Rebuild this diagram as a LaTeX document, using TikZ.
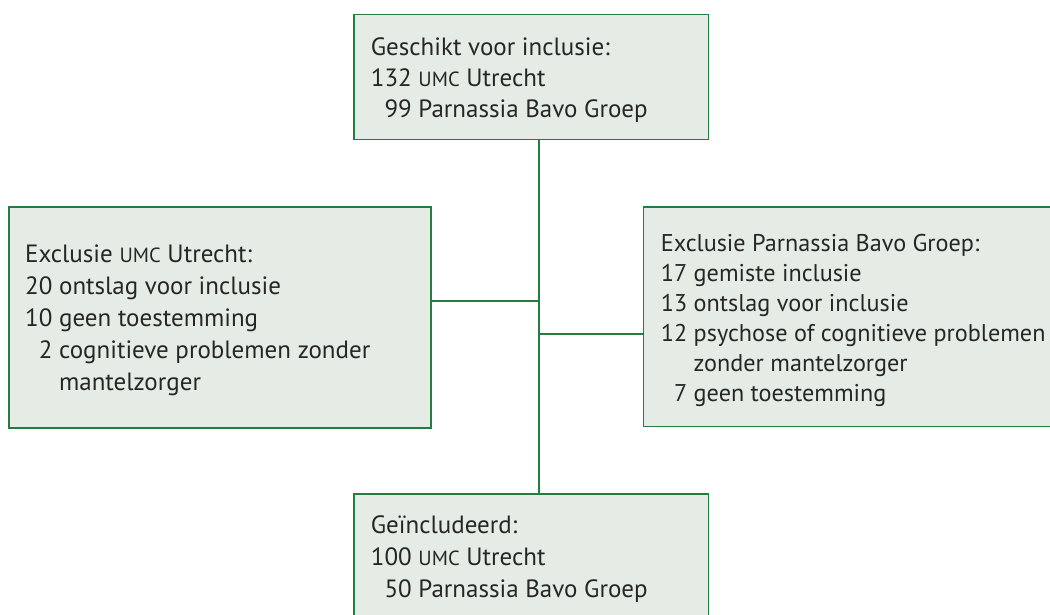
\documentclass[tikz,border=0pt]{standalone}
\usepackage{fontspec}
\setmainfont{PT Sans}
\definecolor{boxgreen}{RGB}{35,125,65}
\definecolor{boxfill}{RGB}{229,235,229}
\newcommand{\umc}{{\fontsize{20.5}{20.5}\selectfont UMC}}
\begin{document}
\begin{tikzpicture}[x=1pt,y=-1pt,
  boxrect/.style={draw=boxgreen,fill=boxfill,line width=1.5pt,rectangle,inner sep=0pt,anchor=north west},
  boxtext/.style={anchor=base west,inner sep=0pt,align=left,text=black!85},
  conn/.style={draw=boxgreen,line width=1.6pt}]
\useasboundingbox (0,0) rectangle (1050,615);
\node[boxrect,minimum width=354.4pt,minimum height=125pt] (top) at (353.3,14) {};
\node[boxrect,minimum width=422pt,minimum height=221.3pt] (left) at (8.3,206) {};
\node[boxrect,minimum width=430pt,minimum height=219.7pt] (right) at (642.7,206) {};
\node[boxrect,minimum width=354.4pt,minimum height=160pt] (bot) at (353.3,493.3) {};
\coordinate (spinetop) at ([xshift=7.5pt]top.south);
\coordinate (spinebot) at ([xshift=7.5pt]bot.north);
\node[boxtext,font=\fontsize{25}{31}\selectfont] (toptxt) at (370.7,117.3) {Geschikt voor inclusie:\\132 \umc{} Utrecht\\\hphantom{1}99 Parnassia Bavo Groep};
\node[boxtext,font=\fontsize{25}{32}\selectfont] (lefttxt) at (25,390) {Exclusie \umc{} Utrecht:\\20 ontslag voor inclusie\\10 geen toestemming\\\hphantom{1}2 cognitieve problemen zonder\\\hphantom{10 }mantelzorger};
\node[boxtext,font=\fontsize{24.2}{30}\selectfont] (righttxt) at (660.7,401.7) {Exclusie Parnassia Bavo Groep:\\17 gemiste inclusie\\13 ontslag voor inclusie\\12 psychose of cognitieve problemen\\\hphantom{12 }zonder mantelzorger\\\hphantom{1}7 geen toestemming};
\node[boxtext,font=\fontsize{25}{32}\selectfont] (bottxt) at (370.7,597.7) {Geïncludeerd:\\100 \umc{} Utrecht\\\hphantom{1}50 Parnassia Bavo Groep};
\draw[conn] (spinetop) -- (spinebot);
\draw[conn] ([yshift=16.3pt]left.east) -- ([yshift=16.3pt]left.east -| spinetop);
\draw[conn] ([yshift=-17.5pt]right.west) -- ([yshift=-17.5pt]right.west -| spinetop);
\end{tikzpicture}
\end{document}
